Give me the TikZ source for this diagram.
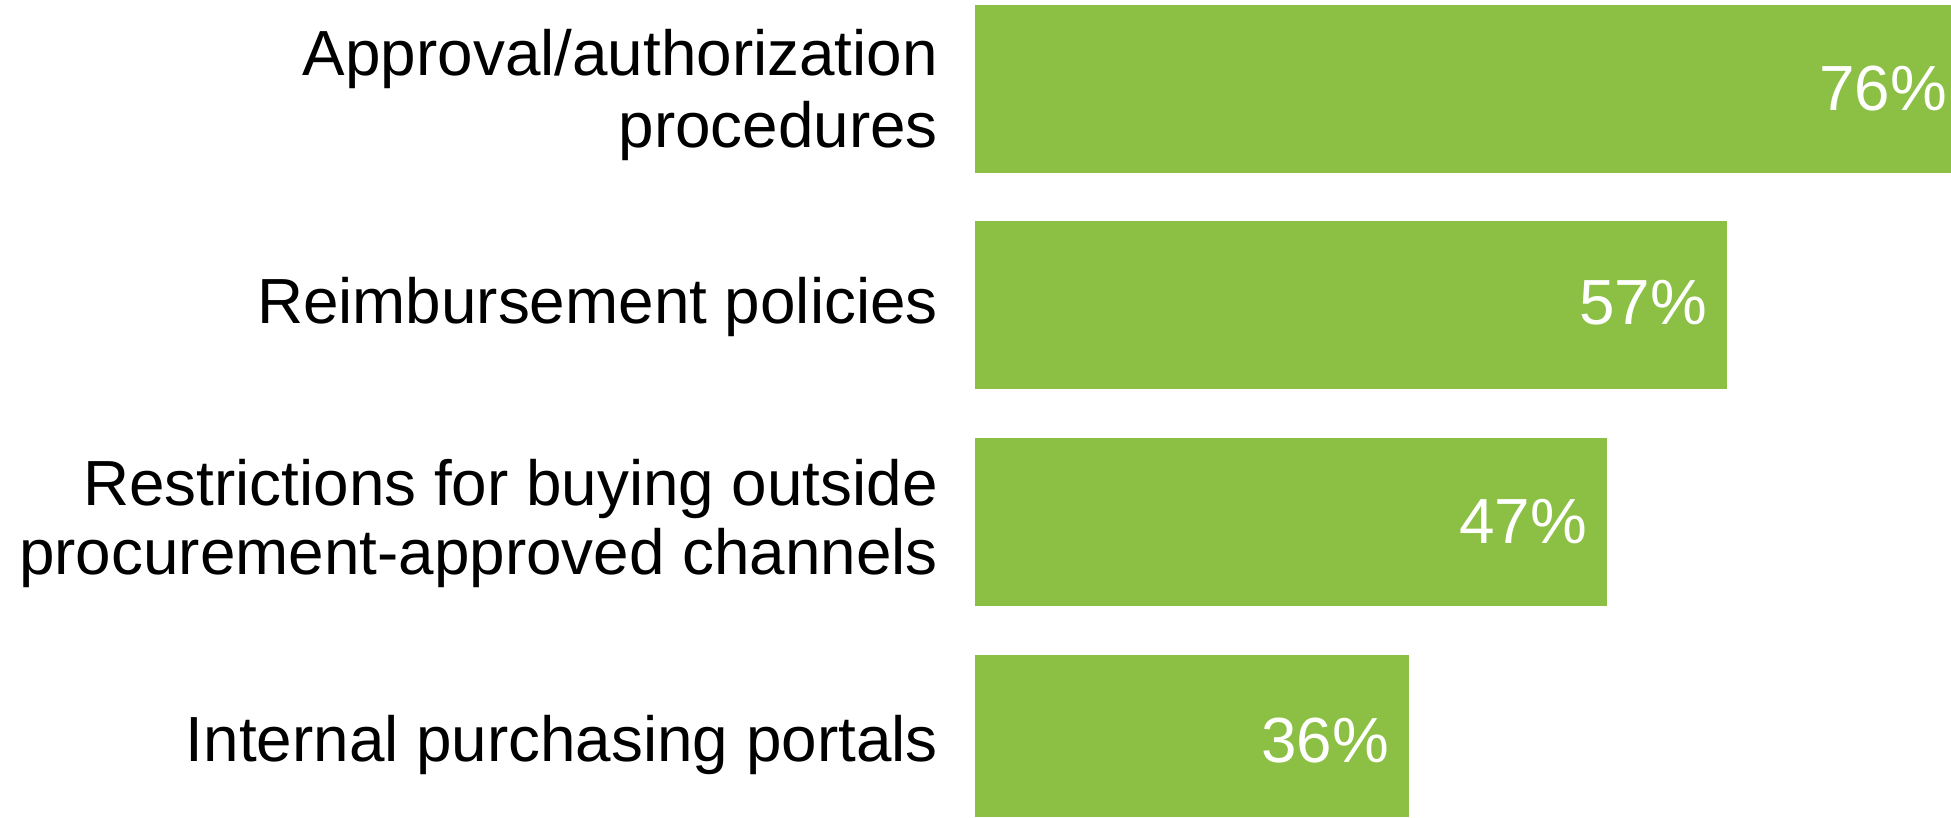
\documentclass[tikz,border=0pt]{standalone}
\usepackage{fontspec}
\setmainfont{Liberation Sans}
\definecolor{bargreen}{RGB}{139,192,69}
\begin{document}
\begin{tikzpicture}[x=1pt,y=-1pt,
  bar/.style={fill=bargreen,draw=none},
  lab/.style={anchor=base east,inner sep=0pt,font=\fontsize{63.8}{70}\selectfont,text=black},
  pct/.style={anchor=base east,inner sep=0pt,font=\fontsize{63.8}{70}\selectfont,text=white}]
\useasboundingbox (0,0) rectangle (1951,817);
\fill[white] (0,0) rectangle (1951,817);
% bars
\path[bar] (975,5) rectangle (1951,173);
\path[bar] (975,221) rectangle (1727,389);
\path[bar] (975,438) rectangle (1607,606);
\path[bar] (975,655) rectangle (1409,817);
% category labels
\node[lab] (l1a) at (938,75) {Approval/authorization};
\node[lab] (l1b) at (938,147) {procedures};
\node[lab] (l2) at (938,323) {Reimbursement policies};
\node[lab] (l3a) at (938,505) {Restrictions for buying outside};
\node[lab] (l3b) at (938,574) {procurement-approved channels};
\node[lab] (l4) at (938,761) {Internal purchasing portals};
% value labels
\node[pct] (p1) at (1947,110) {76\%};
\node[pct] (p2) at (1707,324) {57\%};
\node[pct] (p3) at (1587,543) {47\%};
\node[pct] (p4) at (1389,762) {36\%};
\end{tikzpicture}
\end{document}
